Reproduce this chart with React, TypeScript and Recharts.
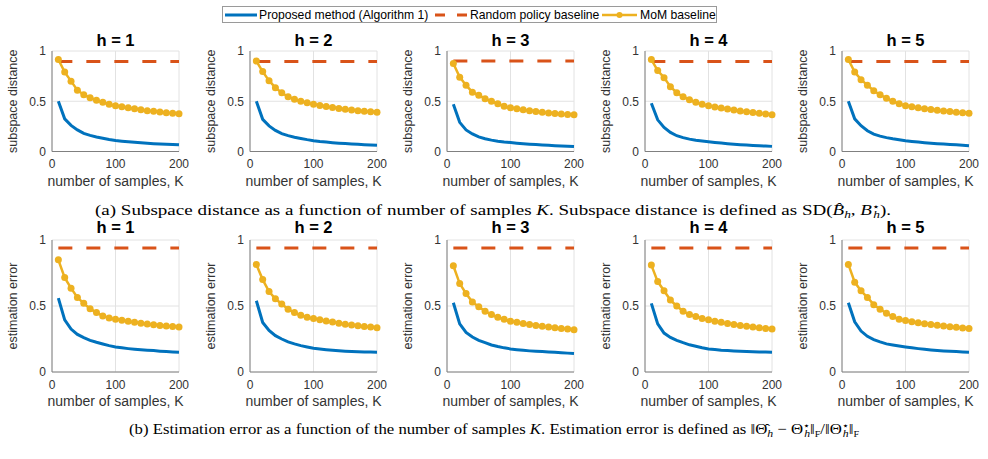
import React from "react";
import { LineChart, Line, XAxis, YAxis, CartesianGrid } from "recharts";

// number of samples K on the x axis
const SAMPLES = [10, 20, 30, 40, 50, 60, 70, 80, 90, 100, 110, 120, 130, 140, 150, 160, 170, 180, 190, 200];
// the random policy baseline is flat, so it only needs its two end points
const RANDOM_K = [10, 200];

const X_TICKS = [0, 100, 200];
const Y_TICKS = [0, 0.5, 1];
const HORIZONS = ["h = 1", "h = 2", "h = 3", "h = 4", "h = 5"];

const SERIES_NAMES = ["Proposed method (Algorithm 1)", "Random policy baseline", "MoM baseline"];

// (a) subspace distance, one array per horizon h
const sdProposed1 = [0.5, 0.325, 0.26, 0.215, 0.18, 0.16, 0.145, 0.132, 0.12, 0.11, 0.103, 0.097, 0.091, 0.086, 0.082, 0.078, 0.075, 0.072, 0.069, 0.066];
const sdProposed2 = [0.5, 0.32, 0.255, 0.21, 0.178, 0.158, 0.142, 0.13, 0.118, 0.108, 0.1, 0.094, 0.088, 0.083, 0.079, 0.075, 0.071, 0.068, 0.065, 0.062];
const sdProposed3 = [0.47, 0.29, 0.215, 0.175, 0.145, 0.127, 0.113, 0.103, 0.095, 0.089, 0.083, 0.078, 0.073, 0.069, 0.065, 0.061, 0.058, 0.055, 0.052, 0.049];
const sdProposed4 = [0.48, 0.315, 0.24, 0.19, 0.157, 0.138, 0.123, 0.112, 0.104, 0.097, 0.09, 0.084, 0.078, 0.073, 0.068, 0.064, 0.06, 0.057, 0.054, 0.051];
const sdProposed5 = [0.5, 0.325, 0.257, 0.207, 0.173, 0.153, 0.138, 0.126, 0.116, 0.107, 0.1, 0.094, 0.088, 0.083, 0.078, 0.074, 0.07, 0.066, 0.062, 0.058];

const sdMoM1 = [0.915, 0.79, 0.7, 0.61, 0.565, 0.535, 0.51, 0.49, 0.47, 0.455, 0.445, 0.435, 0.425, 0.415, 0.405, 0.4, 0.392, 0.386, 0.38, 0.375];
const sdMoM2 = [0.9, 0.795, 0.705, 0.635, 0.585, 0.545, 0.52, 0.5, 0.485, 0.47, 0.458, 0.447, 0.437, 0.428, 0.42, 0.412, 0.405, 0.4, 0.395, 0.39];
const sdMoM3 = [0.875, 0.74, 0.66, 0.59, 0.56, 0.525, 0.5, 0.475, 0.45, 0.435, 0.425, 0.415, 0.405, 0.397, 0.39, 0.384, 0.378, 0.373, 0.369, 0.365];
const sdMoM4 = [0.915, 0.805, 0.735, 0.645, 0.585, 0.545, 0.515, 0.49, 0.47, 0.455, 0.443, 0.432, 0.422, 0.412, 0.403, 0.395, 0.387, 0.38, 0.372, 0.365];
const sdMoM5 = [0.915, 0.79, 0.715, 0.66, 0.605, 0.565, 0.53, 0.5, 0.475, 0.455, 0.445, 0.435, 0.426, 0.418, 0.41, 0.403, 0.397, 0.391, 0.385, 0.38];

const sdRandom = [0.895, 0.895, 0.9, 0.895, 0.895];

// (b) estimation error, one array per horizon h
const eeProposed1 = [0.56, 0.395, 0.325, 0.285, 0.26, 0.24, 0.225, 0.212, 0.2, 0.19, 0.183, 0.177, 0.172, 0.168, 0.165, 0.162, 0.158, 0.155, 0.152, 0.15];
const eeProposed2 = [0.54, 0.375, 0.315, 0.275, 0.25, 0.228, 0.213, 0.2, 0.19, 0.18, 0.174, 0.169, 0.165, 0.161, 0.158, 0.156, 0.154, 0.152, 0.151, 0.15];
const eeProposed3 = [0.525, 0.365, 0.3, 0.265, 0.24, 0.222, 0.205, 0.193, 0.183, 0.175, 0.169, 0.164, 0.16, 0.157, 0.155, 0.152, 0.149, 0.146, 0.143, 0.14];
const eeProposed4 = [0.52, 0.365, 0.295, 0.262, 0.24, 0.222, 0.206, 0.195, 0.184, 0.175, 0.17, 0.165, 0.162, 0.159, 0.157, 0.155, 0.154, 0.152, 0.151, 0.15];
const eeProposed5 = [0.525, 0.38, 0.31, 0.27, 0.245, 0.228, 0.213, 0.205, 0.197, 0.19, 0.183, 0.177, 0.172, 0.167, 0.163, 0.16, 0.157, 0.155, 0.152, 0.15];

const eeMoM1 = [0.85, 0.715, 0.635, 0.565, 0.52, 0.48, 0.45, 0.425, 0.41, 0.4, 0.392, 0.384, 0.377, 0.37, 0.364, 0.358, 0.353, 0.348, 0.344, 0.34];
const eeMoM2 = [0.815, 0.7, 0.61, 0.555, 0.515, 0.475, 0.45, 0.43, 0.415, 0.405, 0.395, 0.386, 0.378, 0.37, 0.362, 0.356, 0.35, 0.345, 0.34, 0.335];
const eeMoM3 = [0.805, 0.67, 0.595, 0.53, 0.495, 0.46, 0.435, 0.415, 0.4, 0.385, 0.376, 0.368, 0.36, 0.353, 0.346, 0.34, 0.335, 0.33, 0.325, 0.32];
const eeMoM4 = [0.81, 0.685, 0.615, 0.545, 0.5, 0.46, 0.435, 0.42, 0.405, 0.395, 0.385, 0.376, 0.368, 0.36, 0.353, 0.346, 0.34, 0.335, 0.33, 0.325];
const eeMoM5 = [0.815, 0.68, 0.615, 0.565, 0.51, 0.475, 0.445, 0.42, 0.4, 0.39, 0.381, 0.373, 0.366, 0.36, 0.354, 0.348, 0.343, 0.339, 0.334, 0.33];

const eeRandom = [0.94, 0.94, 0.94, 0.94, 0.94];

const BLUE = "#0072BD";
const ORANGE = "#D95319";
const YELLOW = "#EDB120";
const SANS = "'Liberation Sans', Arial, sans-serif";
const SERIF = "'Liberation Serif', 'Times New Roman', serif";

// left edge of each plot area
const PLOT_LEFT = [52, 249.5, 447, 645, 842];
const PLOT_W = 127;
const AXIS_SPACE = 50; // y label + y tick labels

interface PanelProps {
    left: number;
    top: number;
    plotH: number;
    titleY: number;
    title: string;
    yLabel: string;
    proposed: number[];
    mom: number[];
    random: number;
}

const Panel: React.FC<PanelProps> = ({ left, top, plotH, titleY, title, yLabel, proposed, mom, random }) => {
    const rows = SAMPLES.map((k, i) => ({ K: k, proposed: proposed[i], mom: mom[i] }));
    const randomRows = RANDOM_K.map(k => ({ K: k, random }));
    const width = AXIS_SPACE + PLOT_W + 16;
    const marginTop = 20;

    return (
        <div style={{ position: "absolute", left: left - AXIS_SPACE, top: top - marginTop }}>
            <LineChart
                width={width}
                height={marginTop + plotH + 34 + 6}
                data={rows}
                margin={{ top: marginTop, right: 16, bottom: 6, left: 20 }}
            >
                <CartesianGrid stroke="#e2e2e2" strokeWidth={1} />
                <XAxis
                    dataKey="K"
                    type="number"
                    domain={[0, 200]}
                    ticks={X_TICKS}
                    height={34}
                    tickLine={false}
                    tickSize={6}
                    tickMargin={2}
                    axisLine={{ stroke: "#808080" }}
                    tick={{ fill: "#333", fontSize: 12, fontFamily: SANS }}
                    label={{ value: "number of samples, K", position: "insideBottom", offset: 0, fill: "#333", fontSize: 14, fontFamily: SANS }}
                />
                <YAxis
                    type="number"
                    domain={[0, 1]}
                    ticks={Y_TICKS}
                    width={30}
                    tickLine={false}
                    tickSize={4}
                    tickMargin={2}
                    axisLine={{ stroke: "#808080" }}
                    tick={{ fill: "#333", fontSize: 12, fontFamily: SANS }}
                    tickFormatter={(v: number) => String(v)}
                    label={() => (
                        <text
                            transform={`translate(15,${marginTop + plotH / 2}) rotate(-90)`}
                            textAnchor="middle"
                            fill="#333"
                            fontSize={12.5}
                            fontFamily={SANS}
                        >
                            {yLabel}
                        </text>
                    )}
                />
                <Line
                    dataKey="proposed"
                    stroke={BLUE}
                    strokeWidth={3}
                    dot={false}
                    isAnimationActive={false}
                />
                <Line
                    data={randomRows}
                    dataKey="random"
                    stroke={ORANGE}
                    strokeWidth={3}
                    strokeDasharray="14 14"
                    dot={false}
                    isAnimationActive={false}
                />
                <Line
                    dataKey="mom"
                    stroke={YELLOW}
                    strokeWidth={2.5}
                    dot={{ r: 3.5, fill: YELLOW, stroke: YELLOW, strokeWidth: 0 }}
                    isAnimationActive={false}
                />
            </LineChart>
            <svg width={width} height={marginTop} style={{ position: "absolute", left: 0, top: 0, overflow: "visible" }}>
                <text x={AXIS_SPACE + PLOT_W / 2} y={titleY} textAnchor="middle" fontWeight="bold" fontSize={16.5} fontFamily={SANS} fill="#000">
                    {title}
                </text>
            </svg>
        </div>
    );
};

const Legend: React.FC = () => (
    <svg width={988} height={28} style={{ position: "absolute", left: 0, top: 0 }}>
        <rect x={222.5} y={6.5} width={494} height={16} fill="#fff" stroke="#9a9a9a" strokeWidth={1} />
        <line x1={225} x2={257} y1={15} y2={15} stroke={BLUE} strokeWidth={3} />
        <text x={259} y={19.3} fontSize={12.2} fontFamily={SANS} fill="#000">{SERIES_NAMES[0]}</text>
        <line x1={435} x2={467} y1={15} y2={15} stroke={ORANGE} strokeWidth={3} strokeDasharray="10 12" />
        <text x={470} y={19.3} fontSize={12.2} fontFamily={SANS} fill="#000">{SERIES_NAMES[1]}</text>
        <line x1={602} x2={637} y1={15} y2={15} stroke={YELLOW} strokeWidth={2.5} />
        <circle cx={619.5} cy={15} r={3} fill={YELLOW} />
        <text x={640} y={19.3} fontSize={12.2} fontFamily={SANS} fill="#000">{SERIES_NAMES[2]}</text>
    </svg>
);

const Captions: React.FC = () => (
    <svg width={988} height={459} style={{ position: "absolute", left: 0, top: 0, pointerEvents: "none" }}>
        <text x={493} y={215} textAnchor="middle" textLength={796} lengthAdjust="spacingAndGlyphs" fontSize={15} fontFamily={SERIF} fill="#000">
            (a) Subspace distance as a function of number of samples <tspan fontStyle="italic">K</tspan>. Subspace distance is defined as SD(
            <tspan fontStyle="italic">{"B\u0302"}</tspan>
            <tspan fontStyle="italic" fontSize={10.5} dy={3}>h</tspan>
            <tspan dy={-3}>, </tspan>
            <tspan fontStyle="italic">B</tspan>
            <tspan fontSize={10} dy={-5}>⋆</tspan>
            <tspan fontStyle="italic" fontSize={10.5} dx={-5} dy={8}>h</tspan>
            <tspan dy={-3}>).</tspan>
        </text>
        <text x={494} y={434} textAnchor="middle" textLength={730} lengthAdjust="spacingAndGlyphs" fontSize={15} fontFamily={SERIF} fill="#000">
            (b) Estimation error as a function of the number of samples <tspan fontStyle="italic">K</tspan>. Estimation error is defined as ‖{"Θ\u0302"}
            <tspan fontStyle="italic" fontSize={10.5} dy={3}>h</tspan>
            <tspan dy={-3}> − Θ</tspan>
            <tspan fontSize={10} dy={-5}>⋆</tspan>
            <tspan fontStyle="italic" fontSize={10.5} dx={-5} dy={8}>h</tspan>
            <tspan dy={-3}>‖</tspan>
            <tspan fontSize={9} dy={3}>F</tspan>
            <tspan dy={-3}>/‖Θ</tspan>
            <tspan fontSize={10} dy={-5}>⋆</tspan>
            <tspan fontStyle="italic" fontSize={10.5} dx={-5} dy={8}>h</tspan>
            <tspan dy={-3}>‖</tspan>
            <tspan fontSize={9} dy={3}>F</tspan>
        </text>
    </svg>
);

const sdProposed = [sdProposed1, sdProposed2, sdProposed3, sdProposed4, sdProposed5];
const sdMoM = [sdMoM1, sdMoM2, sdMoM3, sdMoM4, sdMoM5];
const eeProposed = [eeProposed1, eeProposed2, eeProposed3, eeProposed4, eeProposed5];
const eeMoM = [eeMoM1, eeMoM2, eeMoM3, eeMoM4, eeMoM5];

export default function App() {
    return (
        <div style={{ position: "absolute", left: 0, top: 0, width: 988, height: 459, background: "#fff", overflow: "hidden" }}>
            <Legend />
            {HORIZONS.map((title, i) => (
                <Panel
                    key={`sd-${i}`}
                    left={PLOT_LEFT[i]}
                    top={50.5}
                    plotH={100.5}
                    titleY={14.5}
                    title={title}
                    yLabel="subspace distance"
                    proposed={sdProposed[i]}
                    mom={sdMoM[i]}
                    random={sdRandom[i]}
                />
            ))}
            {HORIZONS.map((title, i) => (
                <Panel
                    key={`ee-${i}`}
                    left={PLOT_LEFT[i]}
                    top={240}
                    plotH={132}
                    titleY={12.5}
                    title={title}
                    yLabel="estimation error"
                    proposed={eeProposed[i]}
                    mom={eeMoM[i]}
                    random={eeRandom[i]}
                />
            ))}
            <Captions />
        </div>
    );
}
